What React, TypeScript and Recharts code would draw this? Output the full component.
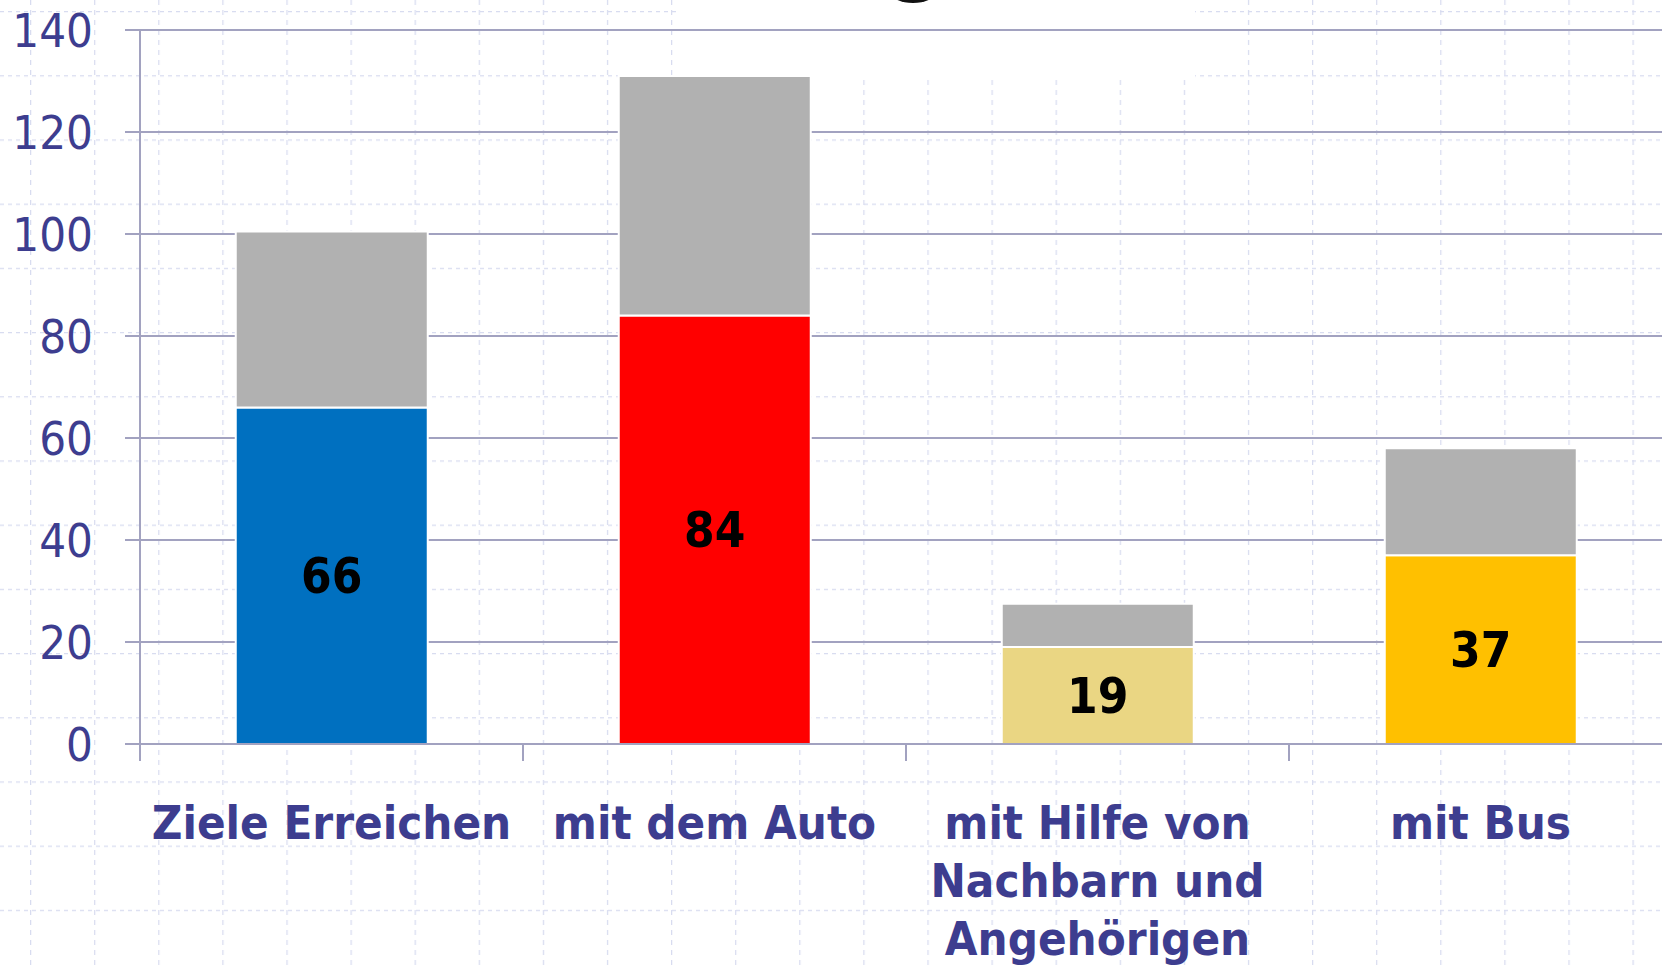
import { BarChart, Bar, XAxis, YAxis, CartesianGrid, Cell, LabelList } from 'recharts';

const categories = ['Ziele Erreichen', 'mit dem Auto', 'mit Hilfe von\nNachbarn und\nAngehörigen', 'mit Bus'];
const answered = [66, 84, 19, 37];
const remainder = [34.5, 47, 8.5, 21];
const barColors = ['#0070c0', '#ff0000', '#ead683', '#ffc000'];
const yTicks = [0, 20, 40, 60, 80, 100, 120, 140];

const data = categories.map((name, i) => ({ name, answered: answered[i], remainder: remainder[i] }));

const INK = '#3d3d8f';
const AXIS = '#a2a2c0';
const FONT = '"DejaVu Sans Condensed", "DejaVu Sans", sans-serif';

const CategoryTick = (props: any) => {
  const { x, y, payload, width, visibleTicksCount, index } = props;
  const band = width / visibleTicksCount;
  const lines = String(payload.value).split('\n');
  return (
    <g>
      <line x1={x - band / 2} x2={x - band / 2} y1={y} y2={y + 17} stroke={AXIS} strokeWidth={2} />
      {index === visibleTicksCount - 1 && (
        <line x1={x + band / 2} x2={x + band / 2} y1={y} y2={y + 17} stroke={AXIS} strokeWidth={2} />
      )}
      <text x={x} y={y + 95} textAnchor="middle" fill={INK} fontFamily={FONT} fontWeight="bold" fontSize={47}>
        {lines.map((l, i) => (
          <tspan key={i} x={x} dy={i === 0 ? 0 : 58}>
            {l}
          </tspan>
        ))}
      </text>
    </g>
  );
};

// graph-paper backdrop of the slide
function Backdrop() {
  return (
    <svg width={1662} height={966} style={{ position: 'absolute', left: 0, top: 0 }}>
      <defs>
        <pattern id="paperV" x={30} y={0} width={64.1} height={966} patternUnits="userSpaceOnUse">
          <line x1={0.5} x2={0.5} y1={0} y2={966} stroke="#d8dcf0" strokeWidth={1.5} strokeDasharray="5 5" />
        </pattern>
        <pattern id="paperH" x={0} y={11} width={1662} height={64.2} patternUnits="userSpaceOnUse">
          <line x1={0} x2={1662} y1={0.5} y2={0.5} stroke="#d8dcf0" strokeWidth={1.5} strokeDasharray="4 4" />
        </pattern>
      </defs>
      <rect width={1662} height={966} fill="#fff" />
      <rect width={1662} height={966} fill="url(#paperV)" />
      <rect width={1662} height={966} fill="url(#paperH)" />
      <rect x={680} y={0} width={515} height={78} fill="#fff" />
      <ellipse cx={913} cy={-7} rx={22} ry={10} fill="#111" />
    </svg>
  );
}

export default function App() {
  return (
    <div style={{ position: 'absolute', left: 0, top: 0, width: 1662, height: 966, overflow: 'hidden', background: '#fff' }}>
      <Backdrop />
      <div style={{ position: 'absolute', left: 0, top: 0 }}>
        <BarChart width={1672} height={966} data={data} margin={{ top: 30, right: 0, bottom: 0, left: 0 }} barCategoryGap="25%">
          <CartesianGrid vertical={false} stroke={AXIS} strokeWidth={2} />
          <XAxis
            dataKey="name"
            height={222}
            interval={0}
            tickSize={0}
            tickMargin={0}
            tickLine={false}
            axisLine={{ stroke: AXIS, strokeWidth: 2 }}
            tick={<CategoryTick />}
          />
          <YAxis
            width={140}
            domain={[0, 140]}
            ticks={yTicks}
            tickSize={15}
            tickMargin={32}
            axisLine={{ stroke: AXIS, strokeWidth: 2 }}
            tickLine={{ stroke: AXIS, strokeWidth: 2 }}
            tick={{ fill: INK, fontSize: 47, fontFamily: FONT }}
          />
          <Bar dataKey="answered" stackId="s" stroke="#fff" strokeWidth={2} isAnimationActive={false}>
            {data.map((_, i) => (
              <Cell key={i} fill={barColors[i]} />
            ))}
            <LabelList dataKey="answered" position="center" fill="#000" fontSize={49} fontWeight="bold" fontFamily={FONT} />
          </Bar>
          <Bar dataKey="remainder" stackId="s" fill="#b1b1b1" stroke="#fff" strokeWidth={2} isAnimationActive={false} />
        </BarChart>
      </div>
    </div>
  );
}
